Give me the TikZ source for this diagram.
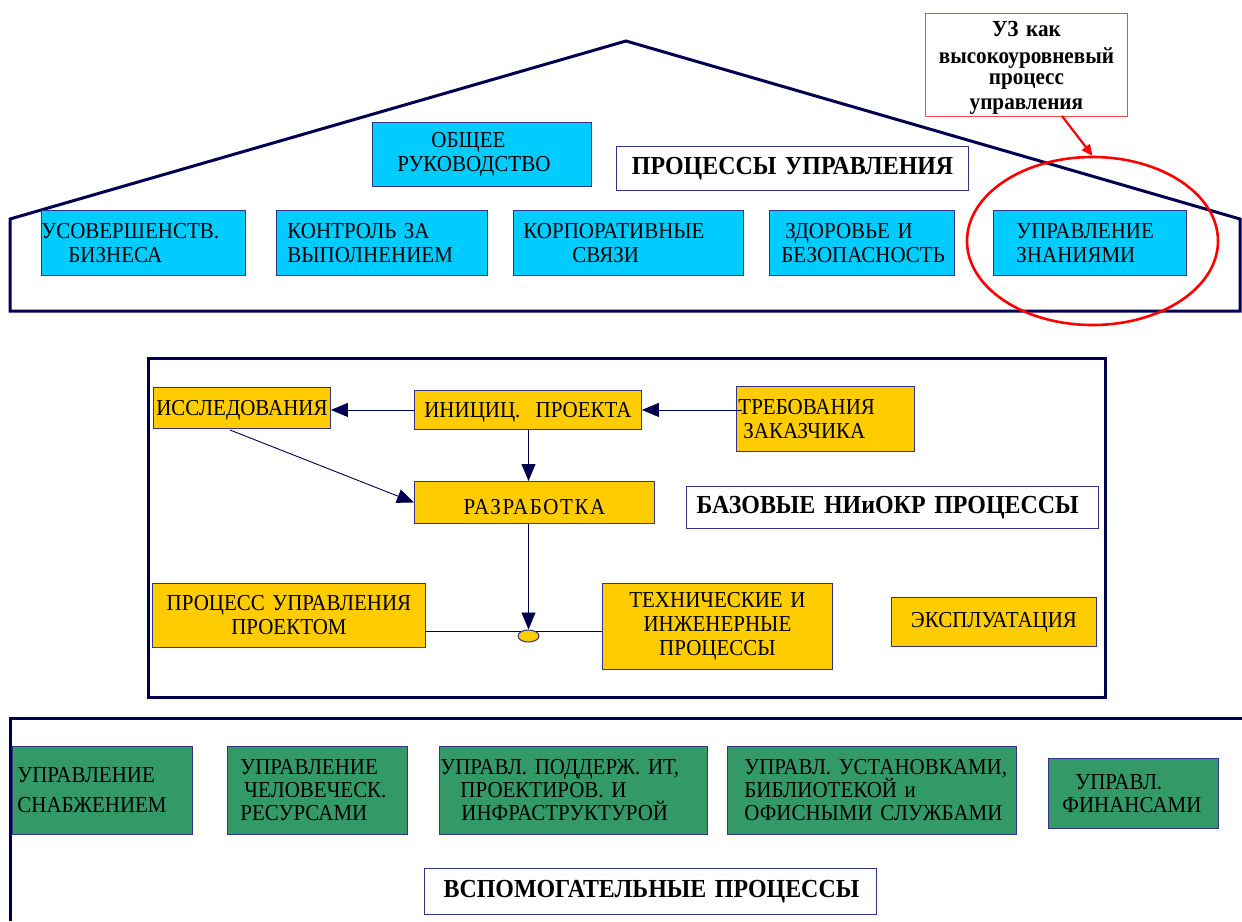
\documentclass[tikz,border=0pt]{standalone}
\usepackage{fontspec}
\setmainfont[FakeStretch=0.92]{Liberation Serif}
\usetikzlibrary{arrows.meta,shapes.geometric}

\definecolor{navy}{RGB}{0,0,80}
\definecolor{edge}{RGB}{51,51,140}
\definecolor{skyfill}{RGB}{0,204,255}
\definecolor{goldfill}{RGB}{255,204,0}
\definecolor{greenfill}{RGB}{51,153,102}
\definecolor{ringred}{RGB}{255,0,0}
\definecolor{notered}{RGB}{255,70,70}

\newcommand{\boxfont}{\fontsize{22.8}{24}\selectfont}
\newcommand{\greenfont}{\fontsize{22.8}{23}\selectfont}
\newcommand{\titlefont}{\fontsize{26}{26}\selectfont\bfseries}
\newcommand{\notefont}{\fontsize{23}{21}\selectfont\bfseries}

\begin{document}
\begin{tikzpicture}[x=1pt,y=-1pt,
  base/.style={draw=edge, line width=0.9pt, inner xsep=0pt, inner ysep=0pt,
    anchor=north west, font=\boxfont},
  cyanbox/.style={base, fill=skyfill},
  goldbox/.style={base, fill=goldfill},
  greenbox/.style={base, fill=greenfill, font=\greenfont},
  titlebox/.style={base, fill=white, font=\titlefont, line width=1.2pt},
  wh/.style n args={2}{text width=#1pt, minimum height=#2pt},
  flow/.style={draw=navy, line width=0.9pt},
  flowarrow/.style={flow, -{Triangle[length=17pt,width=14pt]}},
  frame/.style={draw=navy, line width=3pt},
]
\useasboundingbox (0,0) rectangle (1242,921);

% ---------- management processes: the roof ----------
\draw[frame, line join=miter] (10,311) -- (10,219) -- (626,41) -- (1240,219) -- (1240,311) -- cycle;

\node[cyanbox, wh={219}{64}, align=left] (obsh) at (372,122)
  {\hspace*{59pt}ОБЩЕЕ\\\hspace*{25pt}РУКОВОДСТВО};
\node[titlebox, wh={352}{44}, align=center] (mgmt) at (616,146) {ПРОЦЕССЫ~УПРАВЛЕНИЯ};

\node[cyanbox, wh={204}{65}, align=left] (usov) at (41,210)
  {УСОВЕРШЕНСТВ.\\\hspace*{27pt}БИЗНЕСА};
\node[cyanbox, wh={211}{65}, align=left] (ctrl) at (276,210)
  {\hspace*{11pt}КОНТРОЛЬ~ЗА\\\hspace*{11pt}ВЫПОЛНЕНИЕМ};
\node[cyanbox, wh={230}{65}, align=left] (corp) at (513,210)
  {\hspace*{10pt}КОРПОРАТИВНЫЕ\\\hspace*{59pt}СВЯЗИ};
\node[cyanbox, wh={185}{65}, align=left] (hse) at (769,210)
  {\hspace*{16pt}ЗДОРОВЬЕ~И\\\hspace*{12pt}БЕЗОПАСНОСТЬ};
\node[cyanbox, wh={193}{65}, align=left] (km) at (993,210)
  {\hspace*{23pt}УПРАВЛЕНИЕ\\\hspace*{23pt}ЗНАНИЯМИ};

% callout pointing at knowledge management
\node[base, draw=notered, fill=white, line width=0.8pt, wh={202}{103}, align=center,
  font=\notefont] (note) at (925,13)
  {\rule{0pt}{21pt}УЗ~как\\[6pt]высокоуровневый\\процесс\\[4pt]управления};
\node[ellipse, draw=ringred, line width=2.6pt, minimum width=251pt, minimum height=168pt,
  inner sep=0pt] (kmring) at (1092.5,241) {};
\coordinate (notefoot) at (1062,116);
\draw[ringred, line width=2.2pt, -{Triangle[length=11pt,width=10pt]}] (notefoot) -- (kmring.north);

% ---------- core R&D processes ----------
\draw[frame] (148,358) rectangle (1105,697);

\node[goldbox, wh={177}{41}, align=center, text depth=0pt] (iss) at (153,387) {ИССЛЕДОВАНИЯ};
\node[goldbox, wh={227}{39}, align=center, text depth=0pt] (init) at (414,390) {ИНИЦИЦ.~~ПРОЕКТА};
\node[goldbox, wh={178}{65}, align=left] (treb) at (736,386)
  {\hspace*{2pt}ТРЕБОВАНИЯ\\\hspace*{7pt}ЗАКАЗЧИКА};
\node[goldbox, wh={240}{42}, align=center, text height=25pt, text depth=0pt] (raz) at (414,481)
  {\addfontfeature{LetterSpace=7}РАЗРАБОТКА};
\node[titlebox, wh={412}{42}, align=left] (core) at (686,486)
  {\hspace*{10pt}БАЗОВЫЕ~НИиОКР~ПРОЦЕССЫ};
\node[goldbox, wh={273}{64}, align=center] (pup) at (152,583)
  {ПРОЦЕСС~УПРАВЛЕНИЯ\\ПРОЕКТОМ};
\node[goldbox, wh={230}{86}, align=center] (tech) at (602,583)
  {ТЕХНИЧЕСКИЕ~И\\ИНЖЕНЕРНЫЕ\\ПРОЦЕССЫ};
\node[goldbox, wh={205}{49}, align=center] (expl) at (891,597) {ЭКСПЛУАТАЦИЯ};
\node[ellipse, draw=edge, fill=goldfill, line width=1pt, minimum width=21pt,
  minimum height=12pt, inner sep=0pt] (dot) at (528.5,636) {};

\draw[flowarrow] (init.west) -- (init.west -| iss.east);
\draw[flowarrow, shorten <=-6pt] (treb.west |- init.east) -- (init.east);
\draw[flowarrow] (dot.north |- init.south) -- (dot.north |- raz.north);
\coordinate (issfoot) at (230,430);
\draw[flowarrow] (issfoot) -- (raz.west);
\draw[flowarrow] (dot.north |- raz.south) -- (dot.north);
\draw[flow] (pup.east |- dot.north west) -- (dot.north west);
\draw[flow] (dot.north east) -- (dot.north east -| tech.west);

% ---------- supporting processes ----------
\draw[frame] (1242,718) -- (10,718) -- (10,921);

\node[greenbox, wh={180}{88}, align=left] (g1) at (12,746)
  {\hspace*{5pt}УПРАВЛЕНИЕ\\[7pt]\hspace*{5pt}СНАБЖЕНИЕМ};
\node[greenbox, wh={180}{88}, align=left] (g2) at (227,746)
  {\hspace*{13pt}УПРАВЛЕНИЕ\\\hspace*{17pt}ЧЕЛОВЕЧЕСК.\\\hspace*{13pt}РЕСУРСАМИ};
\node[greenbox, wh={268}{88}, align=left] (g3) at (439,746)
  {\hspace*{1pt}УПРАВЛ.~ПОДДЕРЖ.~ИТ,\\\hspace*{21pt}ПРОЕКТИРОВ.~И\\\hspace*{22pt}ИНФРАСТРУКТУРОЙ};
\node[greenbox, wh={289}{88}, align=left] (g4) at (727,746)
  {\hspace*{17pt}УПРАВЛ.~УСТАНОВКАМИ,\\\hspace*{17pt}БИБЛИОТЕКОЙ~и\\\hspace*{17pt}ОФИСНЫМИ~СЛУЖБАМИ};
\node[greenbox, wh={170}{70}, align=left] (g5) at (1048,758)
  {\hspace*{27pt}УПРАВЛ.\\\hspace*{14pt}ФИНАНСАМИ};
\node[titlebox, wh={452}{46}, align=left] (aux) at (424,868)
  {\hspace*{19pt}ВСПОМОГАТЕЛЬНЫЕ~ПРОЦЕССЫ};
\end{tikzpicture}
\end{document}
